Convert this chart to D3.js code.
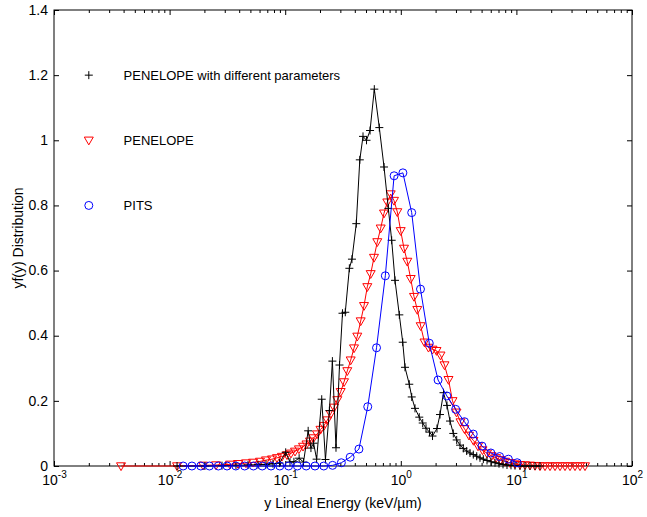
<!DOCTYPE html>
<html>
<head>
<meta charset="utf-8">
<script src="https://cdn.jsdelivr.net/npm/d3@7"></script>
<style>
  body { margin: 0; background: #fff; }
  svg { display: block; font-family: "Liberation Sans", Arial, Helvetica, sans-serif; }
  .tick text { font-family: "Liberation Sans", Arial, Helvetica, sans-serif; fill: #000; }
</style>
</head>
<body>
<svg id="chart" width="647" height="517"></svg>
<script>
// PENELOPE with different parameters (black +)
const blackX = [0.0116, 0.0202, 0.0284, 0.0375, 0.0477, 0.0582, 0.0682, 0.0784, 0.0893, 0.101,
  0.110, 0.119, 0.132, 0.144, 0.158, 0.167, 0.176, 0.187, 0.207, 0.223,
  0.241, 0.256, 0.275, 0.295, 0.313, 0.331, 0.359, 0.378, 0.412, 0.442,
  0.471, 0.505, 0.542, 0.590, 0.652, 0.716, 0.780, 0.834, 0.891, 0.971,
  1.039, 1.087, 1.184, 1.243, 1.327, 1.445, 1.547, 1.652, 1.771, 1.880,
  2.056, 2.183, 2.341, 2.510, 2.665, 2.846, 3.045, 3.252, 3.473, 3.716,
  3.968, 4.238, 4.536, 4.843, 5.172, 5.568, 6.030, 6.530, 7.071, 7.658,
  8.291, 8.980, 9.725, 10.74, 11.87, 13.11, 14.49, 16.00]
const blackY = [0, 0, 0.001, 0.002, 0.003, 0.004, 0.005, 0.007, 0.009, 0.042,
  0.012, 0.013, 0.024, 0.012, 0.108, 0.055, 0.070, 0.021, 0.205, 0.020,
  0.170, 0.322, 0.056, 0.310, 0.469, 0.472, 0.607, 0.635, 0.744, 0.940,
  1.012, 1.000, 1.030, 1.157, 1.039, 0.918, 0.791, 0.693, 0.570, 0.464,
  0.380, 0.303, 0.251, 0.212, 0.177, 0.150, 0.132, 0.116, 0.104, 0.092,
  0.115, 0.158, 0.225, 0.186, 0.138, 0.100, 0.080, 0.064, 0.054, 0.046,
  0.040, 0.035, 0.030, 0.025, 0.021, 0.017, 0.013, 0.010, 0.007, 0.005,
  0.003, 0.002, 0.001, 0, 0, 0, 0, 0]

// PENELOPE (red triangles)
const redX = [0.0038, 0.0116, 0.0195, 0.0252, 0.0333, 0.0391, 0.0458, 0.0527, 0.0605, 0.0682,
  0.0769, 0.0849, 0.0937, 0.1036, 0.1122, 0.1216, 0.1315, 0.1426, 0.1528, 0.1638,
  0.1758, 0.1884, 0.2020, 0.2166, 0.2313, 0.2475, 0.2643, 0.2822, 0.3020, 0.3227,
  0.3445, 0.3686, 0.3937, 0.4204, 0.4498, 0.4805, 0.5131, 0.5490, 0.5863, 0.6261,
  0.6700, 0.7155, 0.7641, 0.8177, 0.8733, 0.9326, 0.998, 1.066, 1.138, 1.218,
  1.301, 1.389, 1.486, 1.603, 1.736, 1.880, 2.036, 2.205, 2.388, 2.586,
  2.801, 3.033, 3.285, 3.556, 3.890, 4.255, 4.654, 5.090, 5.568, 6.090,
  6.661, 7.288, 7.969, 8.804, 9.725, 10.74, 11.87, 13.11, 14.49, 16.00,
  17.68, 19.53, 21.58, 23.84, 26.33, 29.09, 32.14, 35.50, 39.22]
const redY = [0, 0, 0.002, 0.003, 0.005, 0.007, 0.009, 0.011, 0.014, 0.018,
  0.021, 0.025, 0.029, 0.034, 0.039, 0.045, 0.052, 0.060, 0.067, 0.076,
  0.086, 0.098, 0.112, 0.124, 0.141, 0.160, 0.180, 0.203, 0.228, 0.258,
  0.292, 0.325, 0.362, 0.398, 0.445, 0.492, 0.550, 0.590, 0.640, 0.688,
  0.730, 0.776, 0.810, 0.835, 0.815, 0.780, 0.722, 0.668, 0.628, 0.575,
  0.520, 0.480, 0.430, 0.380, 0.364, 0.358, 0.354, 0.340, 0.310, 0.265,
  0.200, 0.165, 0.135, 0.114, 0.094, 0.078, 0.061, 0.049, 0.039, 0.031,
  0.025, 0.019, 0.014, 0.010, 0.006, 0.004, 0.003, 0.002, 0.001, 0,
  0, 0, 0, 0, 0, 0, 0, 0, 0]

// PITS (blue circles)
const blueX = [0.0131, 0.0156, 0.0186, 0.0221, 0.0264, 0.0314, 0.0374, 0.0446, 0.0531, 0.0633,
  0.0754, 0.0898, 0.107, 0.1275, 0.1519, 0.181, 0.2156, 0.2569, 0.306, 0.3646,
  0.4344, 0.5176, 0.6166, 0.7346, 0.8752, 1.0427, 1.2423, 1.480, 1.763, 2.101,
  2.503, 2.982, 3.553, 4.233, 5.043, 6.009, 7.159, 8.529, 10.16]
const blueY = [0, 0, 0, 0, 0, 0, 0, 0, 0, 0,
  0, 0, 0, 0, 0, 0, 0, 0.002, 0.010, 0.027,
  0.052, 0.182, 0.363, 0.584, 0.891, 0.900, 0.778, 0.543, 0.377, 0.264,
  0.215, 0.174, 0.136, 0.098, 0.061, 0.040, 0.029, 0.021, 0.010]

const xTicks = [1e-3, 1e-2, 1e-1, 1, 10, 100]
const xTickExp = ['-3', '-2', '-1', '0', '1', '2']
const yTicks = [0, 0.2, 0.4, 0.6, 0.8, 1, 1.2, 1.4]
const yTickLabels = ['0', '0.2', '0.4', '0.6', '0.8', '1', '1.2', '1.4']
const legendNames = ['PENELOPE with different parameters', 'PENELOPE', 'PITS']
const legendY = [1.2, 1.0, 0.8]

const MARGINS = { top: 10, right: 15, bottom: 51, left: 54 }
const WIDTH = 647, HEIGHT = 517
const FONT = 14

const x = d3.scaleLog().domain([1e-3, 1e2]).range([MARGINS.left, WIDTH - MARGINS.right])
const y = d3.scaleLinear().domain([0, 1.4]).range([HEIGHT - MARGINS.bottom, MARGINS.top])

const svg = d3.select('#chart')

// minor log ticks
const minor = []
for (let e = -3; e < 2; e++) {
  for (let k = 2; k <= 9; k++) minor.push(k * Math.pow(10, e))
}

const bottomY = y(0), topY = y(1.4), leftX = x(1e-3), rightX = x(1e2)

function styleAxis(g) {
  g.select('.domain').remove()
  g.attr('font-size', FONT)
  g.selectAll('.tick line').attr('stroke', '#000')
}

// bottom axis with labels
const xb = svg.append('g').attr('transform', `translate(0,${bottomY})`)
  .call(d3.axisBottom(x).tickValues(xTicks).tickSizeInner(-5).tickSizeOuter(0))
  .call(styleAxis)
xb.selectAll('.tick text').each(function(d, i) {
  const t = d3.select(this).text(null)
    .attr('y', 19).attr('dy', null).attr('text-anchor', 'middle')
  t.append('tspan').attr('font-size', FONT).text('10')
  t.append('tspan').attr('font-size', 10).attr('dy', -7).text(xTickExp[i])
})
svg.append('g').attr('transform', `translate(0,${bottomY})`)
  .call(d3.axisBottom(x).tickValues(minor).tickSizeInner(-3).tickSizeOuter(0).tickFormat(''))
  .call(styleAxis)

// top axis
svg.append('g').attr('transform', `translate(0,${topY})`)
  .call(d3.axisTop(x).tickValues(xTicks).tickSizeInner(-5).tickSizeOuter(0).tickFormat(''))
  .call(styleAxis)
svg.append('g').attr('transform', `translate(0,${topY})`)
  .call(d3.axisTop(x).tickValues(minor).tickSizeInner(-3).tickSizeOuter(0).tickFormat(''))
  .call(styleAxis)

// left axis
svg.append('g').attr('transform', `translate(${leftX},0)`)
  .call(d3.axisLeft(y).tickValues(yTicks).tickSizeInner(-5).tickSizeOuter(0).tickPadding(6)
    .tickFormat((d, i) => yTickLabels[i]))
  .call(styleAxis)
  .call(g => g.selectAll('.tick text').attr('dy', '0.3em'))

// right axis
svg.append('g').attr('transform', `translate(${rightX},0)`)
  .call(d3.axisRight(y).tickValues(yTicks).tickSizeInner(-5).tickSizeOuter(0).tickFormat(''))
  .call(styleAxis)

// box
svg.append('rect')
  .attr('x', leftX).attr('y', topY)
  .attr('width', rightX - leftX).attr('height', bottomY - topY)
  .attr('fill', 'none').attr('stroke', '#000').attr('stroke-width', 1)

// axis titles
svg.append('text')
  .attr('x', (leftX + rightX) / 2).attr('y', 508)
  .attr('text-anchor', 'middle').attr('font-size', FONT)
  .text('y Lineal Energy (keV/\u00b5m)')
svg.append('text')
  .attr('transform', `translate(23,${(topY + bottomY) / 2}) rotate(-90)`)
  .attr('text-anchor', 'middle').attr('font-size', FONT)
  .text('yf(y) Distribution')

// marker shapes
const plusPath = 'M-4,0H4M0,-4V4'
const triPath = 'M-4.5,-3.2L4.5,-3.2L0,4.6Z'

const series = [
  { xs: redX, ys: redY, color: '#ff0000', marker: 'tri' },
  { xs: blackX, ys: blackY, color: '#000000', marker: 'plus' },
  { xs: blueX, ys: blueY, color: '#0000ff', marker: 'circle' }
]

const line = d3.line().x(d => x(d[0])).y(d => y(d[1]))

function drawMarker(sel, marker, color) {
  if (marker === 'circle') {
    sel.append('circle').attr('r', 4).attr('fill', 'none').attr('stroke', color)
  } else {
    sel.append('path').attr('d', marker === 'tri' ? triPath : plusPath)
      .attr('fill', 'none').attr('stroke', color)
  }
}

series.forEach(s => {
  const pts = d3.zip(s.xs, s.ys)
  svg.append('path').datum(pts)
    .attr('d', line).attr('fill', 'none')
    .attr('stroke', s.color).attr('stroke-width', 1)
  svg.append('g').selectAll('g')
    .data(pts).enter().append('g')
    .attr('transform', d => `translate(${x(d[0])},${y(d[1])})`)
    .each(function() { drawMarker(d3.select(this), s.marker, s.color) })
})

// legend (text annotations at data coordinates)
const legendMarkers = ['plus', 'tri', 'circle']
const legendColors = ['#000000', '#ff0000', '#0000ff']
legendNames.forEach((name, i) => {
  const g = svg.append('g').attr('transform', `translate(${x(0.002)},${y(legendY[i])})`)
  drawMarker(g, legendMarkers[i], legendColors[i])
  svg.append('text')
    .attr('x', x(0.004)).attr('y', y(legendY[i])).attr('dy', '0.35em')
    .attr('font-size', 13).text(name)
})
</script>
</body>
</html>
